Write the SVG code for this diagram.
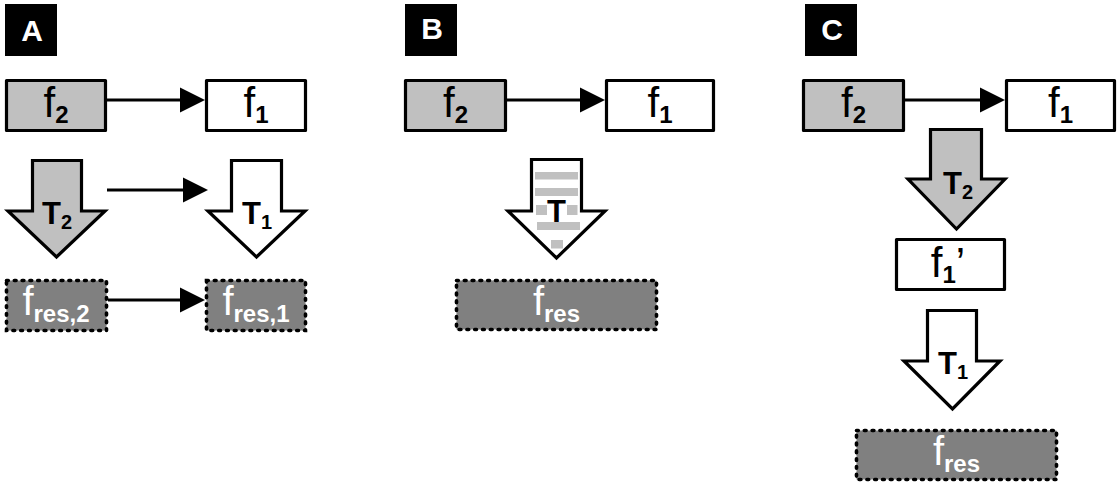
<svg xmlns="http://www.w3.org/2000/svg" width="1120" height="485" viewBox="0 0 1120 485">
  <style>
    text { font-family: "Liberation Sans", Arial, sans-serif; }
    .tag { fill: #000; }
    .tagtxt { fill: #fff; font-size: 30px; font-weight: bold; text-anchor: middle; }
    .box { stroke: #000; stroke-width: 3.2; stroke-linejoin: round; }
    .light { fill: #c0c0c0; }
    .white { fill: #fff; }
    .res { fill: #808080; stroke: #000; stroke-width: 3.6; stroke-dasharray: 1.8 6; stroke-linecap: round; }
    .blk { stroke: #000; stroke-width: 3.2; stroke-linejoin: miter; stroke-miterlimit: 10; }
    .ftxt { font-size: 42px; text-anchor: middle; fill: #000; }
    .rtxt { font-size: 40px; text-anchor: middle; fill: #fff; }
    .ttxt { font-size: 31px; font-weight: bold; text-anchor: middle; fill: #000; }
    .sub { font-size: 24px; font-weight: bold; }
    .rsub { font-size: 24px; font-weight: bold; }
    .tsub { font-size: 20px; font-weight: bold; }
    .conn { stroke: #000; stroke-width: 3.2; fill: none; }
    .stripe { fill: #c0c0c0; }
  </style>
  <defs>
    <marker id="ah" markerUnits="userSpaceOnUse" markerWidth="26" markerHeight="26" viewBox="0 0 26 26" refX="1" refY="13" orient="auto">
      <path d="M0,0.5 L25,13 L0,25.5 z" fill="#000"/>
    </marker>
  </defs>

  <!-- panel tags -->
  <g id="tagA"><rect class="tag" x="5" y="4" width="52" height="52"/><text class="tagtxt" x="32" y="41">A</text></g>
  <g id="tagB"><rect class="tag" x="405" y="4" width="52" height="52"/><text class="tagtxt" x="432" y="39">B</text></g>
  <g id="tagC"><rect class="tag" x="805" y="4" width="52" height="52"/><text class="tagtxt" x="832" y="40">C</text></g>

  <!-- connectors -->
  <g id="connectors">
    <line class="conn" x1="107" y1="100" x2="181" y2="100" marker-end="url(#ah)"/>
    <line class="conn" x1="107" y1="190" x2="184" y2="190" marker-end="url(#ah)"/>
    <line class="conn" x1="108" y1="300" x2="181" y2="300" marker-end="url(#ah)"/>
    <line class="conn" x1="507" y1="100" x2="581" y2="100" marker-end="url(#ah)"/>
    <line class="conn" x1="905" y1="100" x2="981" y2="100" marker-end="url(#ah)"/>
  </g>

  <!-- panel A -->
  <g id="A_f2">
    <rect class="box light" x="6.5" y="80.5" width="99" height="50"/>
    <text class="ftxt" x="56" y="117">f<tspan class="sub" dy="6">2</tspan></text>
  </g>
  <g id="A_f1">
    <rect class="box white" x="206.5" y="80.5" width="99" height="50"/>
    <text class="ftxt" x="256" y="117">f<tspan class="sub" dy="6">1</tspan></text>
  </g>
  <g id="A_T2">
    <polygon class="blk light" points="32.5,160.5 81.5,160.5 81.5,211 105,211 56.5,257 8,211 32.5,211"/>
    <text class="ttxt" x="57" y="224">T<tspan class="tsub" dy="5">2</tspan></text>
  </g>
  <g id="A_T1">
    <polygon class="blk white" points="231.5,160.5 281.5,160.5 281.5,211 305,211 256.5,257 208,211 231.5,211"/>
    <text class="ttxt" x="257" y="224">T<tspan class="tsub" dy="5">1</tspan></text>
  </g>
  <g id="A_fres2">
    <rect class="res" x="6.5" y="280.5" width="100" height="50"/>
    <text class="rtxt" x="56" y="315">f<tspan class="rsub" dy="7">res,2</tspan></text>
  </g>
  <g id="A_fres1">
    <rect class="res" x="206.5" y="280.5" width="99" height="50"/>
    <text class="rtxt" x="256" y="315">f<tspan class="rsub" dy="7">res,1</tspan></text>
  </g>

  <!-- panel B -->
  <g id="B_f2">
    <rect class="box light" x="405.5" y="80.5" width="100" height="50"/>
    <text class="ftxt" x="455.5" y="117">f<tspan class="sub" dy="6">2</tspan></text>
  </g>
  <g id="B_f1">
    <rect class="box white" x="606.5" y="80.5" width="107" height="50"/>
    <text class="ftxt" x="660" y="117">f<tspan class="sub" dy="6">1</tspan></text>
  </g>
  <g id="B_T">
    <polygon class="blk white" points="531.5,159.5 581.5,159.5 581.5,211 605,211 556.5,258 508,211 531.5,211"/>
    <rect class="stripe" x="535" y="172" width="43" height="7.5"/>
    <rect class="stripe" x="535" y="188" width="43" height="8"/>
    <rect class="stripe" x="536" y="205" width="11" height="10"/>
    <rect class="stripe" x="567" y="205" width="10.5" height="10"/>
    <rect class="stripe" x="537" y="222" width="43" height="8"/>
    <rect class="stripe" x="551" y="240" width="12" height="8.5"/>
    <text class="ttxt" x="556.5" y="222">T</text>
  </g>
  <g id="B_fres">
    <rect class="res" x="456.5" y="280.5" width="200" height="49"/>
    <text class="rtxt" x="556.5" y="315">f<tspan class="rsub" dy="7">res</tspan></text>
  </g>

  <!-- panel C -->
  <g id="C_f2">
    <rect class="box light" x="803.5" y="80.5" width="100" height="50"/>
    <text class="ftxt" x="853.5" y="117">f<tspan class="sub" dy="6">2</tspan></text>
  </g>
  <g id="C_f1">
    <rect class="box white" x="1006.5" y="80.5" width="108" height="50"/>
    <text class="ftxt" x="1060.5" y="117">f<tspan class="sub" dy="6">1</tspan></text>
  </g>
  <g id="C_T2">
    <polygon class="blk light" points="930.5,129.5 981.5,129.5 981.5,179 1005,179 956.5,229 908,179 930.5,179"/>
    <text class="ttxt" x="958" y="194">T<tspan class="tsub" dy="5">2</tspan></text>
  </g>
  <g id="C_f1p">
    <rect class="box white" x="896.5" y="239.5" width="108" height="50"/>
    <text class="ftxt" x="948" y="277">f<tspan class="sub" dy="6">1</tspan><tspan dy="-6">’</tspan></text>
  </g>
  <g id="C_T1">
    <polygon class="blk white" points="927.5,310.5 976.5,310.5 976.5,361 1000,361 952.5,409 904,361 927.5,361"/>
    <text class="ttxt" x="953" y="374">T<tspan class="tsub" dy="5">1</tspan></text>
  </g>
  <g id="C_fres">
    <rect class="res" x="856.5" y="430.5" width="200" height="49"/>
    <text class="rtxt" x="956.5" y="465">f<tspan class="rsub" dy="7">res</tspan></text>
  </g>
</svg>
